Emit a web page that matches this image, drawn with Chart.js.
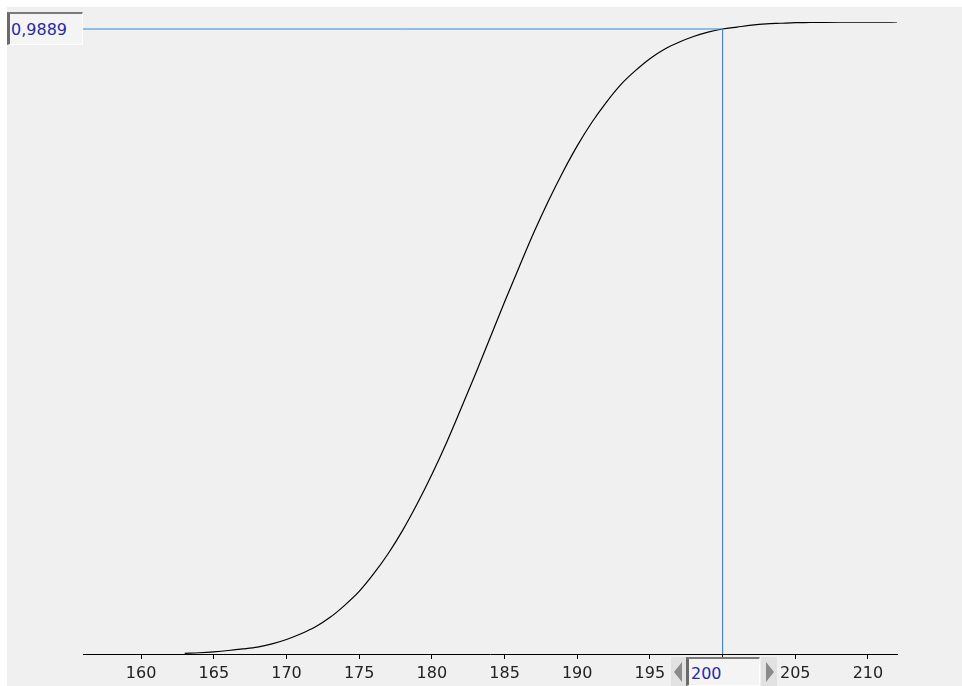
<!DOCTYPE html>
<html>
<head>
<meta charset="utf-8">
<script src="https://cdn.jsdelivr.net/npm/chart.js@4"></script>
<style>
  body { margin: 0; background: #ffffff; }
  #wrap { position: relative; width: 962px; height: 686px; overflow: hidden; }
  #panel { position: absolute; left: 7px; top: 7px; right: 0; bottom: 0; background: #f0f0f0; }
  #c { position: absolute; left: 0; top: 0; }
  .field {
    position: absolute; box-sizing: border-box; background: #f4f4f4;
    border-top: 2px solid #7a7a7a; border-left: 3px solid #6a6a6a;
    border-right: 1px solid #ffffff; border-bottom: 1px solid #ffffff;
    font-family: "DejaVu Sans", Verdana, sans-serif; font-size: 16px; color: #2a2aa0;
    padding-left: 1px;
  }
  #yField { left: 7px; top: 12px; width: 76px; height: 33px; line-height: 31px; }
  #xField { left: 686px; top: 657px; width: 74px; height: 29px; line-height: 30px; padding-left: 2px; }
  .btn { position: absolute; top: 657px; width: 16px; height: 29px; background: #e2e2e2; }
  .btn i { position: absolute; top: 5px; width: 0; height: 0; border-top: 10px solid transparent; border-bottom: 10px solid transparent; }
  #bl { left: 671px; }
  #bl i { left: 3px; border-right: 8px solid #8a8a8a; }
  #br { left: 761px; }
  #br i { left: 5px; border-left: 8px solid #8a8a8a; }
</style>
</head>
<body>
<div id="wrap">
  <div id="panel"></div>
  <canvas id="c" width="962" height="686"></canvas>
  <div class="field" id="yField">0,9889</div>
  <div class="btn" id="bl"><i></i></div>
  <div class="field" id="xField">200</div>
  <div class="btn" id="br"><i></i></div>
</div>
<script>
// x values and cumulative probability
let xValues = [163, 164, 165, 166, 167, 168, 169, 170, 171, 172,
               173, 174, 175, 176, 177, 178, 179, 180, 181, 182,
               183, 184, 185, 186, 187, 188, 189, 190, 191, 192,
               193, 194, 195, 196, 197, 198, 199, 200, 201, 202,
               203, 204, 205, 206, 207, 208, 209, 210, 211, 212];
let cdfValues = [0.001, 0.002, 0.0035, 0.0055, 0.008, 0.011, 0.016, 0.023, 0.032, 0.043,
                 0.058, 0.077, 0.099, 0.127, 0.159, 0.196, 0.238, 0.284, 0.334, 0.388,
                 0.443, 0.500, 0.557, 0.612, 0.666, 0.716, 0.762, 0.804, 0.841, 0.873,
                 0.901, 0.923, 0.942, 0.957, 0.968, 0.977, 0.984, 0.9889, 0.992, 0.995,
                 0.997, 0.998, 0.999, 0.9992, 0.9995, 0.9997, 0.9998, 0.9999, 0.9999, 1.0];
let xTicks = [160, 165, 170, 175, 180, 185, 190, 195, 200, 205, 210];
let xMin = 156;
let xMax = 212;

// cursor (crosshair) position
let cursorX = 200;
let cursorY = 0.9889;

let curve = xValues.map((x, i) => ({ x: x, y: cdfValues[i] }));
let crosshair = [
    { x: xMin, y: cursorY },
    { x: cursorX, y: cursorY },
    { x: cursorX, y: 0 }
];

let ctx = document.getElementById('c').getContext('2d');
new Chart(ctx, {
    type: 'scatter',
    data: {
        datasets: [
            {
                data: crosshair,
                showLine: true,
                borderColor: '#2f8ee0',
                borderWidth: 1,
                pointRadius: 0,
                tension: 0
            },
            {
                data: curve,
                showLine: true,
                borderColor: '#000000',
                borderWidth: 1.2,
                pointRadius: 0,
                cubicInterpolationMode: 'monotone'
            }
        ]
    },
    options: {
        responsive: false,
        animation: false,
        layout: { padding: { left: 83, right: 65, top: 22, bottom: 0 } },
        plugins: { legend: { display: false }, tooltip: { enabled: false } },
        scales: {
            x: {
                type: 'linear',
                min: xMin,
                max: xMax,
                afterBuildTicks: (scale) => { scale.ticks = xTicks.map(v => ({ value: v })); },
                afterFit: (scale) => { scale.height = 32; },
                border: { display: true, color: '#000000', width: 1 },
                grid: { drawOnChartArea: false, drawTicks: true, tickLength: 5, tickColor: '#000000' },
                ticks: {
                    color: '#222222',
                    padding: 5,
                    maxRotation: 0,
                    autoSkip: false,
                    font: { family: 'DejaVu Sans', size: 16 }
                }
            },
            y: {
                display: false,
                min: 0,
                max: 1
            }
        }
    }
});
</script>
</body>
</html>
